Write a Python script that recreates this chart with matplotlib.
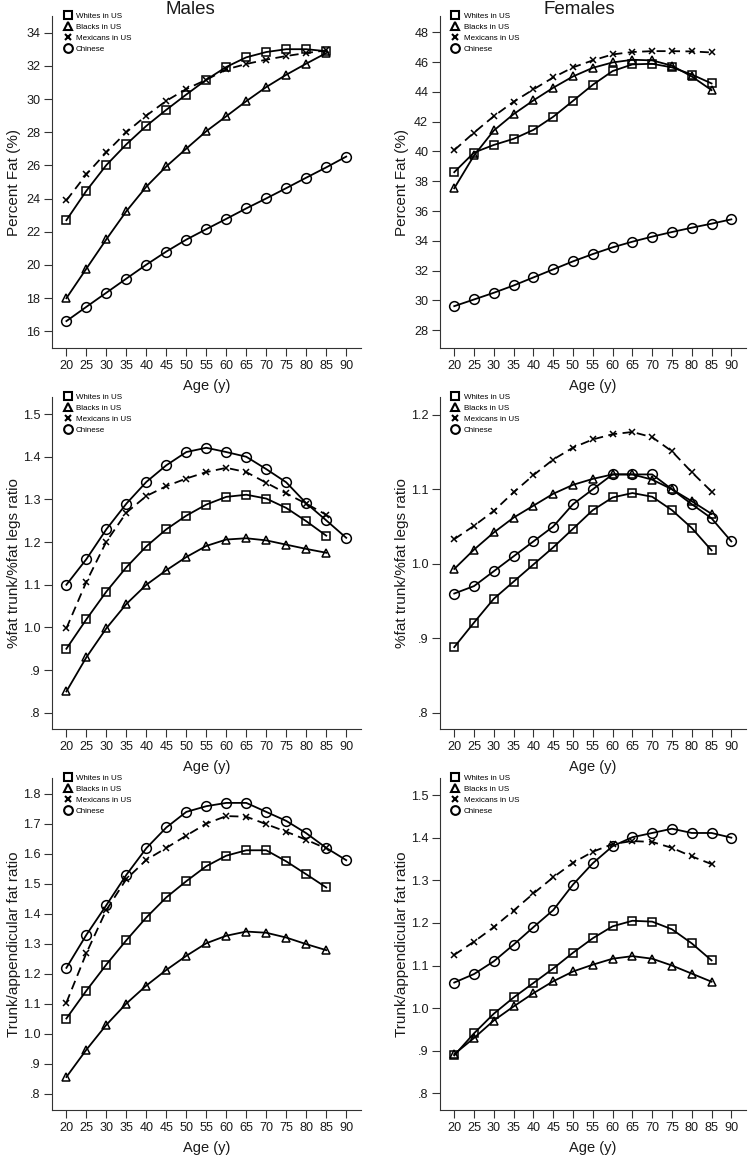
import numpy as np
import matplotlib
matplotlib.use("Agg")
import matplotlib.pyplot as plt
from matplotlib.lines import Line2D
from matplotlib.ticker import FuncFormatter

plt.rcParams['font.family'] = ['Liberation Sans', 'DejaVu Sans']

# ages
ages = [20, 25, 30, 35, 40, 45, 50, 55, 60, 65, 70, 75, 80, 85]
ages_cn = [20, 25, 30, 35, 40, 45, 50, 55, 60, 65, 70, 75, 80, 85, 90]

groups = ['Whites in US', 'Blacks in US', 'Mexicans in US', 'Chinese']

# percent fat
m_fat_white = [22.7, 24.47, 26.02, 27.27, 28.38, 29.35, 30.27, 31.16, 31.93, 32.51, 32.83, 33.0, 33.0, 32.88]
m_fat_black = [18.0, 19.78, 21.55, 23.24, 24.72, 25.94, 27.01, 28.06, 28.96, 29.87, 30.72, 31.46, 32.13, 32.77]
m_fat_mex = [23.89, 25.46, 26.79, 28.0, 29.0, 29.89, 30.6, 31.16, 31.78, 32.11, 32.37, 32.59, 32.77, 32.93]
m_fat_cn = [16.62, 17.48, 18.33, 19.18, 20.02, 20.81, 21.53, 22.16, 22.78, 23.41, 24.01, 24.63, 25.26, 25.88, 26.53]

f_fat_white = [38.61, 39.93, 40.44, 40.85, 41.45, 42.33, 43.4, 44.48, 45.4, 45.85, 45.89, 45.65, 45.17, 44.57]
f_fat_black = [37.53, 39.73, 41.41, 42.51, 43.43, 44.28, 45.04, 45.62, 45.98, 46.16, 46.12, 45.76, 45.04, 44.12]
f_fat_mex = [40.09, 41.27, 42.37, 43.34, 44.17, 44.97, 45.65, 46.12, 46.52, 46.68, 46.74, 46.74, 46.72, 46.65]
f_fat_cn = [29.61, 30.06, 30.51, 31.0, 31.54, 32.08, 32.62, 33.11, 33.56, 33.94, 34.28, 34.59, 34.88, 35.15, 35.44]

# %fat trunk / %fat legs
m_tl_white = [0.950, 1.019, 1.084, 1.141, 1.190, 1.230, 1.262, 1.288, 1.306, 1.311, 1.302, 1.280, 1.249, 1.215]
m_tl_black = [0.850, 0.930, 0.998, 1.055, 1.100, 1.134, 1.165, 1.191, 1.206, 1.209, 1.204, 1.194, 1.184, 1.175]
m_tl_mex = [0.998, 1.107, 1.201, 1.269, 1.308, 1.331, 1.349, 1.364, 1.374, 1.364, 1.339, 1.314, 1.290, 1.264]
m_tl_cn = [1.100, 1.160, 1.230, 1.290, 1.341, 1.380, 1.411, 1.421, 1.411, 1.400, 1.371, 1.340, 1.291, 1.251, 1.210]

f_tl_white = [0.888, 0.921, 0.953, 0.976, 0.999, 1.022, 1.047, 1.072, 1.089, 1.095, 1.090, 1.072, 1.048, 1.018]
f_tl_black = [0.993, 1.019, 1.042, 1.062, 1.078, 1.094, 1.106, 1.114, 1.120, 1.120, 1.113, 1.100, 1.084, 1.067]
f_tl_mex = [1.033, 1.051, 1.071, 1.096, 1.119, 1.140, 1.156, 1.167, 1.174, 1.177, 1.170, 1.151, 1.123, 1.097]
f_tl_cn = [0.960, 0.970, 0.990, 1.010, 1.030, 1.050, 1.080, 1.100, 1.120, 1.120, 1.120, 1.100, 1.080, 1.061, 1.030]

# trunk / appendicular fat
m_ta_white = [1.051, 1.144, 1.231, 1.312, 1.388, 1.455, 1.509, 1.559, 1.594, 1.612, 1.612, 1.575, 1.532, 1.488]
m_ta_black = [0.856, 0.947, 1.030, 1.101, 1.161, 1.213, 1.260, 1.302, 1.327, 1.341, 1.337, 1.321, 1.299, 1.279]
m_ta_mex = [1.104, 1.269, 1.413, 1.516, 1.580, 1.620, 1.661, 1.701, 1.726, 1.724, 1.699, 1.674, 1.647, 1.618]
m_ta_cn = [1.220, 1.330, 1.429, 1.530, 1.619, 1.688, 1.740, 1.759, 1.770, 1.770, 1.740, 1.710, 1.669, 1.620, 1.579]

f_ta_white = [0.889, 0.941, 0.987, 1.025, 1.059, 1.093, 1.130, 1.164, 1.192, 1.205, 1.203, 1.185, 1.152, 1.112]
f_ta_black = [0.892, 0.930, 0.971, 1.004, 1.035, 1.063, 1.086, 1.102, 1.116, 1.122, 1.116, 1.100, 1.081, 1.062]
f_ta_mex = [1.125, 1.156, 1.190, 1.229, 1.269, 1.307, 1.341, 1.367, 1.385, 1.392, 1.390, 1.376, 1.356, 1.338]
f_ta_cn = [1.060, 1.080, 1.110, 1.149, 1.190, 1.230, 1.290, 1.340, 1.380, 1.401, 1.411, 1.421, 1.411, 1.411, 1.400]

panels = [
    ([m_fat_white, m_fat_black, m_fat_mex, m_fat_cn], 'Percent Fat (%)', (15.0, 35.0), np.arange(16, 35, 2), False),
    ([f_fat_white, f_fat_black, f_fat_mex, f_fat_cn], 'Percent Fat (%)', (26.8, 49.1), np.arange(28, 49, 2), False),
    ([m_tl_white, m_tl_black, m_tl_mex, m_tl_cn], '%fat trunk/%fat legs ratio', (0.762, 1.54), np.arange(0.8, 1.51, 0.1), True),
    ([f_tl_white, f_tl_black, f_tl_mex, f_tl_cn], '%fat trunk/%fat legs ratio', (0.778, 1.224), np.arange(0.8, 1.21, 0.1), True),
    ([m_ta_white, m_ta_black, m_ta_mex, m_ta_cn], 'Trunk/appendicular fat ratio', (0.746, 1.853), np.arange(0.8, 1.81, 0.1), True),
    ([f_ta_white, f_ta_black, f_ta_mex, f_ta_cn], 'Trunk/appendicular fat ratio', (0.761, 1.54), np.arange(0.8, 1.51, 0.1), True),
]

# marker style per group
styles = [
    dict(marker='s', ms=5.4, ls='-'),
    dict(marker='^', ms=6.0, ls='-'),
    dict(marker='x', ms=4.5, ls=(0, (5, 3))),
    dict(marker='o', ms=7.0, ls='-'),
]

def ratio_fmt(v, pos):
    s = '%.1f' % v
    if s.startswith('0'):
        s = s[1:]
    return s

fig = plt.figure(figsize=(7.51, 11.57), dpi=100)

W, H = 751.0, 1157.0
cols = [(52, 361), (440, 746)]
rows = [(16, 348), (397, 729), (778, 1110)]

for i, (series, ylab, ylim, yticks, is_ratio) in enumerate(panels):
    r, c = divmod(i, 2)
    x0, x1 = cols[c]
    t0, b0 = rows[r]
    ax = fig.add_axes([x0 / W, 1 - b0 / H, (x1 - x0) / W, (b0 - t0) / H])
    for k, ys in enumerate(series):
        xs = ages_cn if k == 3 else ages
        st = styles[k]
        ax.plot(xs, ys, color='black', lw=1.3, ls=st['ls'], marker=st['marker'],
                ms=st['ms'], mfc='none', mec='black', mew=1.1)
    ax.set_xlim(16.4, 93.7)
    ax.set_ylim(*ylim)
    ax.set_xticks(ages_cn)
    ax.set_yticks(yticks)
    if is_ratio:
        ax.yaxis.set_major_formatter(FuncFormatter(ratio_fmt))
    for s in ['top', 'right']:
        ax.spines[s].set_visible(False)
    for s in ['left', 'bottom']:
        ax.spines[s].set_linewidth(0.8)
        ax.spines[s].set_color('#333333')
    ax.tick_params(direction='out', length=5.5, width=0.8, color='#333333',
                   labelsize=9.1, pad=3, labelcolor='#1a1a1a')
    ax.set_ylabel(ylab, fontsize=11, color='#1a1a1a')
    ax.yaxis.set_label_coords(-0.10, 0.5)
    ax.set_xlabel('Age (y)', fontsize=10.5, color='#1a1a1a')
    ax.xaxis.set_label_coords(0.5, -0.093)

    handles = []
    for k, g in enumerate(groups):
        st = styles[k]
        handles.append(Line2D([], [], ls='none', marker=st['marker'], ms=6.3 if k != 2 else 4.8,
                              mfc='none', mec='black', mew=1.5, label=g))
    ax.legend(handles=handles, loc='upper left', bbox_to_anchor=(0.04, 1.012),
              frameon=False, fontsize=5.8, handlelength=0.8, handletextpad=0.6,
              labelspacing=0.42, borderaxespad=0.0, borderpad=0.0)

fig.text(190 / W, 1 - 10 / H, 'Males', ha='center', va='center', fontsize=13.5, color='#1a1a1a')
fig.text(579 / W, 1 - 10 / H, 'Females', ha='center', va='center', fontsize=13.5, color='#1a1a1a')

fig.savefig('out.png', dpi=100)
